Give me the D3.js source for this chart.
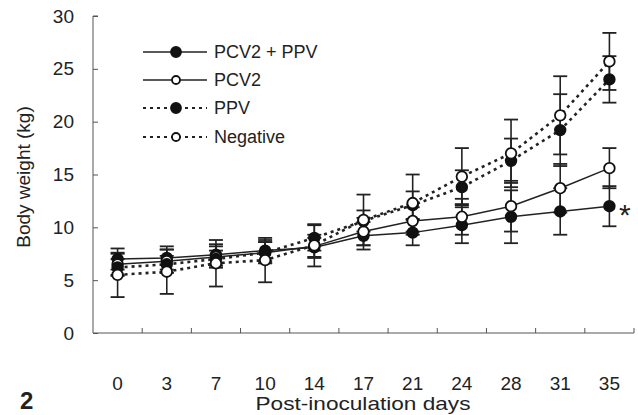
<!DOCTYPE html>
<html><head><meta charset="utf-8">
<script src="https://cdn.jsdelivr.net/npm/d3@7"></script>
<style>
html,body{margin:0;padding:0;background:#fff;}
text{font-family:"Liberation Sans",Arial,sans-serif;fill:#222;}
</style></head>
<body>
<svg id="chart" width="638" height="415"></svg>
<script>
const days = ["0","3","7","10","14","17","21","24","28","31","35"];
const yTicks = [0,5,10,15,20,25,30];
const seriesNames = ["PCV2 + PPV","PCV2","PPV","Negative"];
const pcv2ppvMean = [7.0, 7.1, 7.4, 7.8, 8.1, 9.2, 9.5, 10.2, 11.0, 11.5, 12.0];
const pcv2ppvSd   = [1.0, 1.1, 1.0, 1.0, 0.9, 1.3, 1.2, 1.7, 2.5, 2.2, 1.9];
const pcv2Mean    = [6.5, 6.8, 7.2, 7.6, 8.2, 9.6, 10.6, 11.0, 12.0, 13.7, 15.6];
const pcv2Sd      = [1.0, 1.1, 1.0, 1.0, 1.1, 1.3, 1.3, 1.7, 2.4, 2.3, 1.9];
const ppvMean     = [6.2, 6.5, 7.0, 7.6, 9.0, 10.6, 12.1, 13.8, 16.3, 19.2, 24.0];
const ppvSd       = [0.8, 0.8, 0.8, 1.0, 1.2, 1.0, 1.3, 1.6, 2.1, 3.4, 2.2];
const negMean     = [5.5, 5.8, 6.6, 6.9, 8.3, 10.7, 12.3, 14.8, 17.0, 20.6, 25.7];
const negSd       = [2.1, 2.1, 2.2, 2.1, 2.0, 2.4, 2.7, 2.7, 3.2, 3.7, 2.7];

const series = [
  {name: seriesNames[0], mean: pcv2ppvMean, sd: pcv2ppvSd, filled: true,  dotted: false},
  {name: seriesNames[1], mean: pcv2Mean,    sd: pcv2Sd,    filled: false, dotted: false},
  {name: seriesNames[2], mean: ppvMean,     sd: ppvSd,     filled: true,  dotted: true},
  {name: seriesNames[3], mean: negMean,     sd: negSd,     filled: false, dotted: true}
];

const svg = d3.select("#chart");
const x = d3.scaleBand().domain(days).range([93, 634]).padding(0);
const y = d3.scaleLinear().domain([0, 30]).range([333, 16]);
const cx = d => x(d) + x.bandwidth()/2;
const axisColor = "#555";

// Y axis
const yAxis = svg.append("g").attr("transform", "translate(93,0)")
  .call(d3.axisLeft(y).tickValues(yTicks).tickSize(-5).tickPadding(19));
yAxis.select(".domain").attr("stroke", axisColor).attr("d", `M5,${y(30)}H0V${y(0)}`);
yAxis.selectAll(".tick line").attr("stroke", axisColor);
yAxis.selectAll(".tick text").attr("font-size", 19).attr("fill", "#222")
  .attr("font-family", '"Liberation Sans",Arial,sans-serif');

// X axis line + ticks at band boundaries
const xg = svg.append("g");
xg.append("line").attr("x1", 93).attr("x2", 634).attr("y1", y(0)).attr("y2", y(0))
  .attr("stroke", axisColor).attr("stroke-width", 1);
const boundaries = days.slice(1).map(d => x(d)).concat([x(days[days.length-1]) + x.bandwidth()]);
xg.selectAll("line.tk").data(boundaries).enter().append("line").attr("class","tk")
  .attr("x1", d => d).attr("x2", d => d).attr("y1", y(0)).attr("y2", y(0) - 5)
  .attr("stroke", axisColor);
xg.selectAll("text.lbl").data(days).enter().append("text").attr("class","lbl")
  .attr("x", d => cx(d)).attr("y", 390).attr("text-anchor","middle")
  .attr("font-size", 19).text(d => d);

// Axis titles
svg.append("text").attr("x", 363).attr("y", 410).attr("text-anchor","middle")
  .attr("font-size", 19).attr("textLength", 215).attr("lengthAdjust", "spacingAndGlyphs")
  .text("Post-inoculation days");
svg.append("text").attr("transform", "translate(30,177) rotate(-90)")
  .attr("text-anchor","middle").attr("font-size", 19).text("Body weight (kg)");
svg.append("text").attr("x", 20).attr("y", 409).attr("font-size", 24)
  .attr("font-weight", "bold").attr("fill","#111").text("2");

// Error bars
const capW = 7;
series.forEach(s => {
  const g = svg.append("g");
  days.forEach((d, i) => {
    const lo = y(s.mean[i] - s.sd[i]), hi = y(s.mean[i] + s.sd[i]);
    g.append("line").attr("x1", cx(d)).attr("x2", cx(d)).attr("y1", lo).attr("y2", hi)
      .attr("stroke", "#222").attr("stroke-width", 1.6);
    [lo, hi].forEach(v => g.append("line").attr("x1", cx(d)-capW).attr("x2", cx(d)+capW)
      .attr("y1", v).attr("y2", v).attr("stroke", "#222").attr("stroke-width", 1.8));
  });
});

// Lines
const line = d3.line().x(d => cx(d.day)).y(d => y(d.v));
series.forEach(s => {
  const pts = days.map((d, i) => ({day: d, v: s.mean[i]}));
  svg.append("path").datum(pts).attr("d", line).attr("fill","none")
    .attr("stroke", "#222").attr("stroke-width", s.dotted ? 2.6 : 1.5)
    .attr("stroke-dasharray", s.dotted ? "3,4" : null);
});

// Markers
series.forEach(s => {
  svg.append("g").selectAll("circle").data(days).enter().append("circle")
    .attr("cx", d => cx(d)).attr("cy", (d, i) => y(s.mean[i])).attr("r", 5.3)
    .attr("fill", s.filled ? "#111" : "#fff").attr("stroke", "#111").attr("stroke-width", 1.8);
});

// Asterisk
svg.append("text").attr("x", 619).attr("y", 225).attr("font-size", 30).attr("fill","#222").text("*");

// Legend
const lg = svg.append("g");
const legY = [52, 80, 108, 137];
series.forEach((s, i) => {
  lg.append("line").attr("x1", 143).attr("x2", 207).attr("y1", legY[i]).attr("y2", legY[i])
    .attr("stroke", "#222").attr("stroke-width", s.dotted ? 2.2 : 1.5)
    .attr("stroke-dasharray", s.dotted ? "3,4" : null);
  lg.append("circle").attr("cx", 176).attr("cy", legY[i]).attr("r", s.filled ? 5 : 4)
    .attr("fill", s.filled ? "#111" : "#fff").attr("stroke", "#111").attr("stroke-width", 1.8);
  lg.append("text").attr("x", 214).attr("y", legY[i] + 6).attr("font-size", 18).text(s.name);
});
</script>
</body></html>
